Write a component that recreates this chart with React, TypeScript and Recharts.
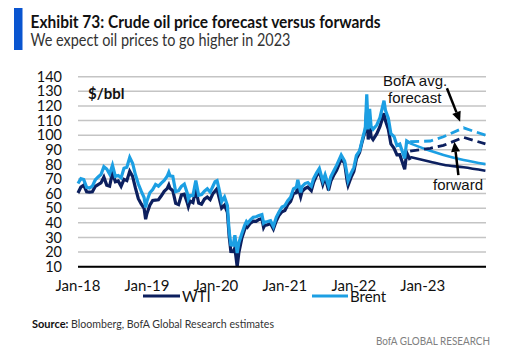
import React from "react";
import { LineChart, Line, XAxis, YAxis, CartesianGrid, ReferenceLine } from "recharts";

// x = months since Jan-18
const histMonths = [
  0, 0.5, 1, 1.5, 2, 2.5, 3, 3.5, 4, 4.5, 5, 5.5, 6, 6.5, 7, 7.5, 8, 8.5, 9, 9.5, 10, 10.5, 11, 11.5, 11.77,
  12, 12.5, 13, 13.5, 14, 14.5, 15, 15.5, 15.8, 16, 16.5, 17, 17.5, 18, 18.5, 19, 19.2, 19.5, 20, 20.5, 21, 21.5, 22, 22.5, 23, 23.5, 23.85,
  24.2, 24.5, 25, 25.5, 26, 26.3, 26.6, 27, 27.3, 27.7, 28, 28.5, 29, 29.3, 29.5, 30, 30.5, 31, 31.5, 32, 32.3, 32.5, 33, 33.5, 34, 34.5, 35, 35.5, 36,
  36.5, 37, 37.5, 38, 38.25, 38.75, 39, 39.5, 40, 40.6, 41, 41.5, 42, 42.6, 43, 43.6, 44, 44.5, 45, 45.8, 46.4, 46.85, 47, 47.5, 48,
  48.45, 49, 49.45, 50, 50.25, 50.5, 50.75, 51, 51.35, 52, 52.55, 53.25, 53.5, 54, 54.45, 55, 55.5, 56, 56.85, 57.2, 57.8,
];

const brent = [
  66.9, 70.2, 69.6, 64.3, 63.8, 65.1, 69.3, 71.4, 73.1, 78.4, 76.8, 73.4, 79.4, 71.8, 72.4, 70.8, 77.4, 78.1, 84.8, 80.8, 72.9, 66.6, 61.7, 57.3, 50.5,
  54.9, 60.6, 62.8, 66.3, 65.1, 67.2, 69.0, 71.7, 74.6, 72.2, 71.8, 61.3, 62.0, 65.0, 66.5, 60.5, 56.2, 58.6, 58.7, 69.0, 58.9, 59.4, 61.7, 63.3, 61.0, 65.2, 68.2,
  68.9, 64.0, 54.5, 57.7, 51.9, 34.4, 24.9, 24.7, 31.5, 19.3, 26.4, 32.5, 38.3, 40.8, 39.7, 42.0, 43.8, 44.2, 45.0, 45.6, 39.8, 40.5, 40.9, 41.5, 37.5, 43.8, 47.6, 50.8, 51.8,
  55.1, 57.5, 63.3, 64.4, 69.4, 60.8, 64.9, 66.9, 67.6, 65.1, 70.3, 74.0, 77.2, 68.6, 72.9, 65.2, 71.6, 75.5, 79.3, 86.4, 82.2, 72.7, 68.9, 73.9, 77.8,
  86.1, 89.2, 96.5, 105.0, 128.0, 104.0, 118.0, 106.0, 104.0, 107.0, 112.0, 123.6, 117.0, 111.6, 101.0, 99.0, 93.0, 94.0, 84.1, 96.0, 94.5,
];

const wti = [
  60.4, 64.5, 65.8, 61.3, 61.0, 61.2, 64.9, 66.2, 67.3, 71.3, 65.8, 65.1, 74.1, 68.1, 68.7, 65.0, 69.8, 68.9, 75.3, 71.8, 63.7, 56.5, 52.9, 49.9, 42.5,
  46.5, 52.1, 55.3, 55.6, 55.8, 58.5, 61.6, 63.4, 65.9, 63.6, 62.0, 53.3, 52.5, 59.1, 59.6, 54.0, 51.1, 54.9, 53.9, 62.9, 53.6, 52.8, 56.2, 57.7, 55.9, 60.2, 61.7,
  63.3, 58.1, 50.1, 52.1, 47.1, 31.1, 20.4, 20.3, 22.8, 10.0, 19.8, 29.4, 35.4, 38.2, 37.1, 39.8, 41.2, 41.0, 42.3, 42.9, 36.8, 38.3, 38.7, 39.5, 35.8, 41.3, 45.3, 47.6, 48.5,
  52.4, 54.6, 60.1, 60.6, 65.1, 57.8, 61.5, 63.5, 64.5, 62.1, 67.7, 72.1, 75.2, 66.4, 71.3, 62.3, 68.6, 72.6, 75.9, 83.8, 80.8, 68.2, 65.6, 70.9, 75.2,
  83.8, 88.2, 95.5, 103.4, 118.0, 97.0, 110.0, 99.0, 97.0, 101.0, 106.0, 115.0, 110.0, 104.0, 94.0, 91.0, 86.5, 86.6, 76.7, 88.0, 83.0,
];

const outMonths = [57.8, 61.3, 63.6, 67.1, 70.9];
const brentForecast = [95.5, 96.0, 98.9, 105.0, 100.0];
const wtiForecast = [89.0, 91.0, 93.0, 98.5, 94.0];
const brentForward = [94.4, 89.3, 86.5, 83.0, 80.2];
const wtiForward = [85.0, 81.8, 79.7, 78.0, 75.6];

const xTicks = [0, 12, 24, 36, 48, 60];
const xLabels = ["Jan-18", "Jan-19", "Jan-20", "Jan-21", "Jan-22", "Jan-23"];
const yTicks = [10, 20, 30, 40, 50, 60, 70, 80, 90, 100, 110, 120, 130, 140];

const DARK = "#0c1f5e";
const LIGHT = "#1c9fe3";

const pts = (xs: number[], vs: number[]) => xs.map((m, i) => ({ m, v: vs[i] }));

const Arrow = (p: any) => {
  const { x1, y1, x2, y2 } = p;
  const a = Math.atan2(y2 - y1, x2 - x1);
  const L = 10, W = 4.5;
  const bx = x2 - L * Math.cos(a);
  const by = y2 - L * Math.sin(a);
  const s = Math.sin(a), c = Math.cos(a);
  return (
    <g>
      <line x1={x1} y1={y1} x2={bx} y2={by} stroke="#000" strokeWidth={2.5} />
      <polygon points={`${x2},${y2} ${bx + W * s},${by - W * c} ${bx - W * s},${by + W * c}`} fill="#000" />
    </g>
  );
};

export default function App() {
  const font = "Lato, 'Noto Sans', sans-serif";
  return (
    <div style={{ position: "absolute", left: 0, top: 0, width: 511, height: 361, background: "#fff" }}>
      <div style={{ position: "absolute", left: 0, top: 0 }}>
        <LineChart width={511} height={361} margin={{ top: 76.7, right: 25, left: 8, bottom: 64.3 }}>
          <CartesianGrid vertical={false} stroke="#c4c4c4" strokeWidth={1.5} />
          <XAxis
            dataKey="m"
            type="number"
            domain={[0, 71]}
            ticks={xTicks}
            interval={0}
            tickFormatter={(v: number) => xLabels[xTicks.indexOf(v)]}
            height={30}
            tickLine={false}
            tickSize={6}
            tickMargin={8}
            axisLine={{ stroke: "#000", strokeWidth: 2 }}
            tick={{ fontSize: 15, fill: "#111", fontFamily: font }}
          />
          <YAxis
            type="number"
            domain={[10, 140]}
            ticks={yTicks}
            interval={0}
            width={70}
            tickLine={false}
            axisLine={false}
            tickSize={6}
            tickMargin={10}
            tick={{ fontSize: 14.5, fill: "#111", fontFamily: font }}
          />
          <Line data={pts(histMonths, wti)} dataKey="v" stroke={DARK} strokeWidth={3.2} dot={false} isAnimationActive={false} />
          <Line data={pts(histMonths, brent)} dataKey="v" stroke={LIGHT} strokeWidth={3.2} dot={false} isAnimationActive={false} />
          <Line data={pts(outMonths, wtiForward)} dataKey="v" type="monotone" stroke={DARK} strokeWidth={2.6} dot={false} isAnimationActive={false} />
          <Line data={pts(outMonths, brentForward)} dataKey="v" type="monotone" stroke={LIGHT} strokeWidth={2.6} dot={false} isAnimationActive={false} />
          <Line data={pts(outMonths, wtiForecast)} dataKey="v" stroke={DARK} strokeWidth={2.8} strokeDasharray="9 5" dot={false} isAnimationActive={false} />
          <Line data={pts(outMonths, brentForecast)} dataKey="v" stroke={LIGHT} strokeWidth={2.8} strokeDasharray="9 5" dot={false} isAnimationActive={false} />
          <ReferenceLine segment={[{ x: 64.2, y: 132.1 }, { x: 66.5, y: 109.2 }]} shape={Arrow} />
          <ReferenceLine segment={[{ x: 66.2, y: 72.7 }, { x: 65.5, y: 95.5 }]} shape={Arrow} />
        </LineChart>
      </div>
      <svg width={511} height={361} style={{ position: "absolute", left: 0, top: 0, pointerEvents: "none" }}>
        <rect x={14} y={8} width={8.5} height={42} fill="#0a55d0" />
        <text x={30.5} y={27.5} fontFamily={font} fontWeight={700} fontSize={16.5} fill="#111" textLength={350} lengthAdjust="spacingAndGlyphs">
          Exhibit 73: Crude oil price forecast versus forwards
        </text>
        <text x={30.5} y={45.5} fontFamily={font} fontSize={16.5} fill="#333" textLength={260} lengthAdjust="spacingAndGlyphs">
          We expect oil prices to go higher in 2023
        </text>
        <text x={88} y={99} fontFamily={font} fontWeight={700} fontSize={15} fill="#111">$/bbl</text>
        <text x={383} y={86} fontFamily="'Liberation Sans', Arial, sans-serif" fontSize={15} fill="#111">BofA avg.</text>
        <text x={388} y={103} fontFamily="'Liberation Sans', Arial, sans-serif" fontSize={15} fill="#111">forecast</text>
        <text x={433} y={190} fontFamily="'Liberation Sans', Arial, sans-serif" fontSize={15} fill="#111">forward</text>
        <line x1={143} y1={296} x2={180} y2={296} stroke={DARK} strokeWidth={3} />
        <text x={182} y={301.5} fontFamily={font} fontSize={15} fill="#111">WTI</text>
        <line x1={312} y1={296} x2={348} y2={296} stroke={LIGHT} strokeWidth={3} />
        <text x={350} y={301.5} fontFamily={font} fontSize={15} fill="#111">Brent</text>
        <text x={32} y={328} fontFamily={font} fontWeight={700} fontSize={11} fill="#111">Source:</text>
        <text x={71} y={328} fontFamily={font} fontSize={11} fill="#333" textLength={203} lengthAdjust="spacingAndGlyphs">
          Bloomberg, BofA Global Research estimates
        </text>
        <text x={376} y={345} fontFamily={font} fontSize={11} fill="#808080" textLength={114} lengthAdjust="spacingAndGlyphs">
          BofA GLOBAL RESEARCH
        </text>
      </svg>
    </div>
  );
}
